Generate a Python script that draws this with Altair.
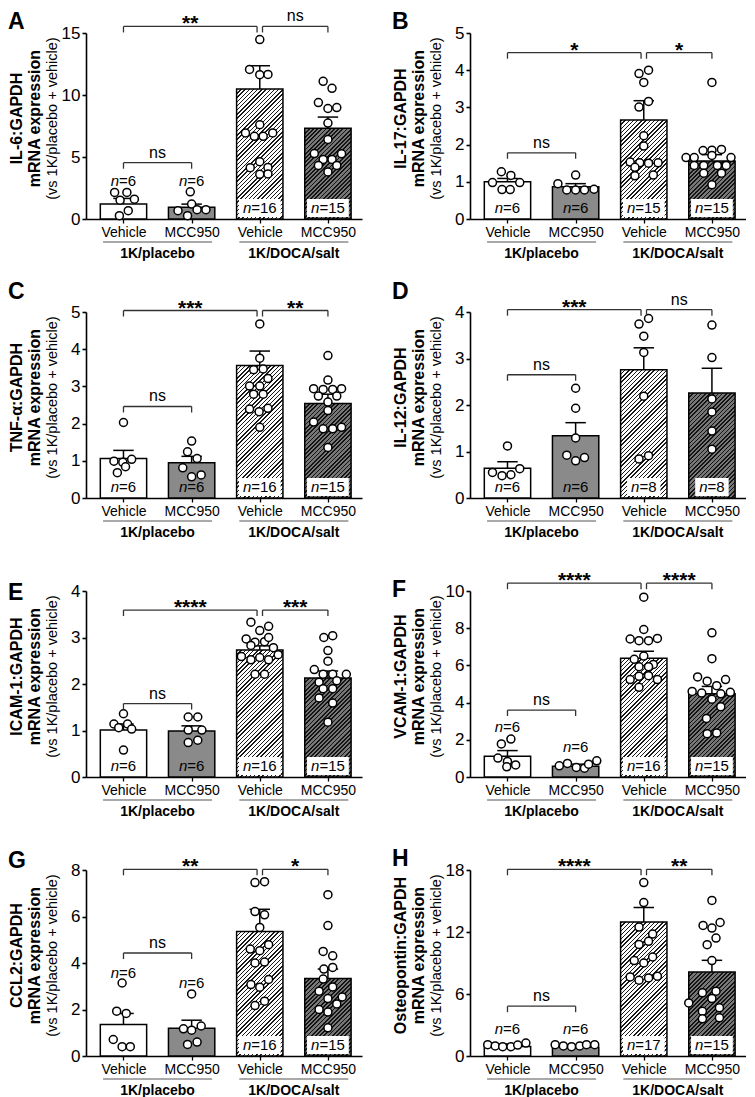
import json
import altair as alt
import pandas as pd

FONT = "Liberation Sans"

# ---------------- text / categories ----------------
CATS = ["Vehicle", "MCC950", "Vehicle", "MCC950"]
GROUPS = ["1K/placebo", "1K/DOCA/salt"]
LETTERS = ["A", "B", "C", "D", "E", "F", "G", "H"]
TITLES = ["IL-6:GAPDH", "IL-17:GAPDH", "TNF-\u03b1:GAPDH", "IL-12:GAPDH",
          "ICAM-1:GAPDH", "VCAM-1:GAPDH", "CCL2:GAPDH", "Osteopontin:GAPDH"]
TITLE_2 = "mRNA expression"
TITLE_3 = "(vs 1K/placebo + vehicle)"
Y_MAX = [15, 5, 5, 4, 4, 10, 8, 18]
Y_TICKS = [[0, 5, 10, 15], [0, 1, 2, 3, 4, 5], [0, 1, 2, 3, 4, 5], [0, 1, 2, 3, 4],
           [0, 1, 2, 3, 4], [0, 2, 4, 6, 8, 10], [0, 2, 4, 6, 8], [0, 6, 12, 18]]

# ---------------- panel A : IL-6 ----------------
A_MEAN = [1.2, 0.94, 10.49, 7.31]
A_ERR = [1.66, 1.2, 12.36, 8.22]
A_N = [6, 6, 16, 15]
A_NY = [3.1, 3.1, None, None]
A_SIG = ["**", "ns", "ns"]
A_BRACKET = [15.53, 4.54]
A_VALS = [[2.14, 2.14, 1.52, 1.6, 0.67, 0.27],
          [2.19, 1.2, 0.67, 0.75, 0.75, 0.27],
          [14.47, 12.06, 11.64, 11.66, 7.6, 6.94, 6.67, 6.67, 6.94, 4.62, 4.14, 4.16, 3.6, 3.63],
          [11.1, 10.54, 9.39, 8.91, 8.99, 7.74, 6.41, 5.28, 5.26, 4.8, 4.8, 4.32, 4.32, 3.79]]
A_DX = [[-0.13, 0.05, -0.05, 0.16, 0.07, -0.06],
        [-0.02, 0.0, -0.2, 0.08, 0.21, -0.06],
        [0, -0.15, 0, 0.12, 0, -0.21, -0.08, 0.05, 0.19, 0, -0.14, 0.12, 0, 0.12],
        [-0.07, 0.06, -0.14, 0, 0.13, 0, 0, -0.2, 0.2, -0.07, 0.06, -0.14, 0.13, 0]]

# ---------------- panel B : IL-17 ----------------
B_MEAN = [1.0, 0.87, 2.66, 1.56]
B_ERR = [1.09, 0.95, 3.18, 1.73]
B_N = [6, 6, 15, 15]
B_NY = [None, None, None, None]
B_SIG = ["*", "*", "ns"]
B_BRACKET = [4.47, 1.78]
B_VALS = [[1.27, 1.17, 0.98, 0.98, 0.79, 0.79],
          [1.18, 0.95, 0.78, 0.78, 0.78, 0.8],
          [3.91, 4.0, 3.67, 3.16, 3.01, 2.24, 1.96, 1.53, 1.51, 1.5, 1.51, 1.39, 1.16, 1.18],
          [3.67, 1.84, 1.85, 1.87, 1.65, 1.65, 1.65, 1.71, 1.44, 1.44, 1.44, 1.44, 1.23, 1.23, 0.92]]
B_DX = [[-0.09, 0.05, -0.22, 0.18, -0.08, 0.04],
        [0, -0.26, -0.13, 0, 0.13, 0.27],
        [-0.07, 0.07, 0, 0.07, -0.07, 0, 0, -0.2, -0.06, 0.07, 0.21, -0.13, -0.13, 0.14],
        [0, -0.13, 0, 0.14, -0.38, -0.26, 0.28, 0, -0.26, -0.12, 0.08, 0.21, -0.12, 0.14, 0]]

# ---------------- panel C : TNF-alpha ----------------
C_MEAN = [1.06, 0.95, 3.56, 2.54]
C_ERR = [1.28, 1.12, 3.95, 2.79]
C_N = [6, 6, 16, 15]
C_NY = [None, None, None, None]
C_SIG = ["***", "**", "ns"]
C_BRACKET = [5.04, 2.46]
C_VALS = [[2.03, 0.99, 0.96, 1.04, 0.84, 0.68],
          [1.53, 1.24, 1.06, 0.81, 0.62, 0.57],
          [4.68, 3.76, 3.45, 3.47, 3.21, 3.01, 3.01, 2.79, 2.79, 2.39, 2.32, 2.41, 1.9],
          [3.83, 3.17, 2.94, 2.92, 2.92, 2.94, 2.74, 2.74, 2.58, 2.35, 2.04, 1.86, 1.86, 1.9, 1.36]]
C_DX = [[0, -0.14, -0.01, 0.12, 0.03, -0.09],
        [0, -0.06, 0.08, -0.13, 0.14, 0],
        [0, 0, -0.09, 0.05, 0.12, -0.15, 0, -0.09, 0.05, -0.15, -0.01, 0.12, 0],
        [0, 0, -0.21, -0.07, 0.07, 0.2, -0.14, 0.13, 0, 0, -0.21, -0.07, 0.07, 0.2, 0]]

# ---------------- panel D : IL-12 ----------------
D_MEAN = [0.64, 1.34, 2.76, 2.26]
D_ERR = [0.78, 1.62, 3.23, 2.79]
D_N = [6, 6, 8, 8]
D_NY = [None, None, None, None]
D_SIG = ["***", "ns", "ns"]
D_BRACKET = [4.05, 2.65]
D_VALS = [[1.12, 0.55, 0.63, 0.48, 0.5],
          [2.36, 1.93, 1.29, 0.92, 0.87, 0.8],
          [3.74, 3.86, 3.48, 3.13, 2.19, 0.84, 0.91],
          [3.72, 3.02, 2.13, 1.85, 1.44, 1.05]]
D_DX = [[0, -0.22, 0.18, -0.08, 0.05],
        [0, 0, 0, -0.13, 0.13, 0],
        [-0.07, 0.07, 0, 0, 0, -0.07, 0.07],
        [0, 0, 0, 0, 0, 0]]

# ---------------- panel E : ICAM-1 ----------------
E_MEAN = [1.01, 0.99, 2.73, 2.13]
E_ERR = [1.14, 1.1, 2.82, 2.28]
E_N = [6, 6, 16, 15]
E_NY = [None, None, None, None]
E_SIG = ["****", "***", "ns"]
E_BRACKET = [3.59, 1.58]
E_VALS = [[1.36, 1.14, 1.14, 1.06, 1.03, 0.58],
          [1.29, 1.29, 1.01, 1.01, 0.79, 0.74],
          [3.33, 3.15, 3.24, 2.97, 2.9, 2.91, 3.0, 2.83, 2.78, 2.59, 2.52, 2.57, 2.52, 2.63, 2.21, 2.21],
          [3.0, 3.04, 2.72, 2.49, 2.31, 2.21, 2.21, 2.21, 2.04, 2.07, 1.9, 1.9, 1.7, 1.59, 1.18]]
E_DX = [[0, -0.14, 0.06, -0.07, 0.12, 0],
        [-0.05, 0.09, -0.05, 0.15, 0.09, -0.05],
        [-0.13, 0, 0.13, -0.2, -0.07, 0.07, 0.13, -0.13, 0.2, -0.27, -0.13, 0, 0.13, 0.27, -0.07, 0.07],
        [-0.06, 0.07, 0, 0, -0.2, -0.07, 0.07, 0.27, -0.13, 0.13, -0.07, 0.07, -0.13, 0.07, 0]]

# ---------------- panel F : VCAM-1 ----------------
F_MEAN = [1.11, 0.58, 6.38, 4.47]
F_ERR = [1.42, 0.69, 6.76, 4.87]
F_N = [6, 6, 16, 15]
F_NY = [2.69, 1.6, None, None]
F_SIG = ["****", "****", "ns"]
F_BRACKET = [10.42, 3.6]
F_VALS = [[2.04, 1.78, 1.02, 0.84, 0.55, 0.65],
          [0.73, 0.51, 0.47, 0.69, 0.87, 0.6],
          [9.67, 7.93, 7.42, 7.33, 7.33, 7.45, 6.5, 6.33, 6.05, 5.93, 5.93, 5.42, 5.45, 5.24, 5.24, 4.82],
          [7.75, 6.36, 5.38, 5.15, 5.24, 4.91, 4.6, 4.51, 4.47, 4.55, 4.18, 3.78, 3.15, 2.33, 2.36]]
F_DX = [[0.05, -0.09, -0.14, 0, -0.01, 0.12],
        [-0.12, 0.01, 0.13, 0.19, 0.31, -0.24],
        [0, 0, -0.2, -0.07, 0.07, 0.2, 0, -0.14, 0.14, -0.07, 0.07, -0.07, 0.07, -0.2, 0.2, -0.07],
        [0, 0, -0.21, -0.07, 0.2, 0.07, -0.29, -0.15, 0.13, 0.27, 0, 0.13, -0.08, -0.07, 0.07]]

# ---------------- panel G : CCL2 ----------------
G_MEAN = [1.36, 1.19, 5.36, 3.33]
G_ERR = [1.83, 1.54, 6.31, 3.74]
G_N = [6, 6, 16, 15]
G_NY = [3.57, 3.14, None, None]
G_SIG = ["**", "*", "ns"]
G_BRACKET = [8.03, 4.43]
G_VALS = [[3.14, 1.93, 1.83, 0.71, 0.4, 0.4],
          [2.67, 1.17, 1.29, 1.11, 0.5, 0.6],
          [7.46, 7.5, 6.21, 6.07, 5.53, 4.6, 4.53, 4.79, 4.0, 4.04, 3.07, 2.96, 3.29, 2.17, 2.36],
          [6.94, 5.61, 4.5, 4.31, 3.74, 3.81, 3.31, 2.79, 2.97, 2.47, 2.54, 2.0, 2.24, 1.89, 1.21]]
G_DX = [[-0.02, -0.1, 0.04, -0.15, -0.02, 0.1],
        [0, -0.12, 0.14, 0, -0.06, 0.08],
        [-0.07, 0.07, -0.07, 0.07, 0, -0.14, 0, 0.13, -0.07, 0.07, -0.13, 0, 0.13, -0.07, 0.07],
        [0, 0, -0.07, 0.07, -0.06, 0.07, -0.07, -0.13, 0.07, 0, 0.21, -0.13, 0.13, 0, 0]]

# ---------------- panel H : Osteopontin ----------------
H_MEAN = [0.93, 0.84, 12.96, 8.13]
H_ERR = [1.16, 1.03, 14.37, 9.26]
H_N = [6, 6, 17, 15]
H_NY = [2.57, 2.57, None, None]
H_SIG = ["****", "**", "ns"]
H_BRACKET = [18.07, 4.82]
H_VALS = [[1.1, 0.97, 0.9, 0.9, 1.06, 1.25],
          [1.1, 0.97, 0.9, 0.97, 1.1, 1.1],
          [16.78, 14.85, 12.48, 11.8, 11.1, 10.8, 9.58, 9.23, 9.0, 7.65, 7.33, 7.56, 7.72],
          [15.05, 12.64, 12.38, 12.92, 11.41, 10.77, 9.23, 6.11, 6.27, 5.14, 5.56, 4.34, 4.66, 3.6, 3.7]]
H_DX = [[-0.29, -0.18, -0.07, 0.05, 0.15, 0.27],
        [-0.3, -0.18, -0.06, 0.06, 0.16, 0.28],
        [0, 0, -0.07, 0.13, 0.07, -0.07, 0.13, -0.14, 0, -0.2, -0.07, 0.07, 0.2],
        [0, -0.13, 0, 0.12, 0.06, -0.07, 0, -0.14, 0.06, -0.34, 0, -0.14, 0.11, -0.14, 0.11]]

PANELS = [
    (A_MEAN, A_ERR, A_VALS, A_DX, A_N, A_NY, A_SIG, A_BRACKET),
    (B_MEAN, B_ERR, B_VALS, B_DX, B_N, B_NY, B_SIG, B_BRACKET),
    (C_MEAN, C_ERR, C_VALS, C_DX, C_N, C_NY, C_SIG, C_BRACKET),
    (D_MEAN, D_ERR, D_VALS, D_DX, D_N, D_NY, D_SIG, D_BRACKET),
    (E_MEAN, E_ERR, E_VALS, E_DX, E_N, E_NY, E_SIG, E_BRACKET),
    (F_MEAN, F_ERR, F_VALS, F_DX, F_N, F_NY, F_SIG, F_BRACKET),
    (G_MEAN, G_ERR, G_VALS, G_DX, G_N, G_NY, G_SIG, G_BRACKET),
    (H_MEAN, H_ERR, H_VALS, H_DX, H_N, H_NY, H_SIG, H_BRACKET),
]

# ---------------- layout / style ----------------
W, H = 276, 186
X_MAX = 4.05
C0 = 0.55
HALF_BAR = 0.34
CAP = 0.15
GAP = 0.04
ROW_PITCH = 279
COL_GAP = 108
PPX = W / X_MAX
LETTER_Y = [-22, -22, -31, -31, -9, -12, -20, -22]
TICK_PX = 6
BRACKET_COLOR = "#333333"


def hatch_fill(w, h, bg, fg, period=4.3, lw=1.5):
    """Diagonal '////' hatching as a hard-stop linear gradient in bbox units."""
    L = w + h
    lam = L / (w * w + h * h)
    stops = []
    t = 0.0
    while t < L:
        a = t / L
        b = min((t + lw) / L, 1.0)
        c = min((t + period) / L, 1.0)
        stops += [{"offset": round(a, 5), "color": fg},
                  {"offset": round(b, 5), "color": fg},
                  {"offset": round(b, 5), "color": bg},
                  {"offset": round(c, 5), "color": bg}]
        t += period
    return {"gradient": "linear", "x1": 0, "y1": 0,
            "x2": round(lam * w, 5), "y2": round(lam * h, 5), "stops": stops}


def panel(i):
    mean, err, vals, dxs, ns, nys, sig, brk = PANELS[i]
    ymax = Y_MAX[i]
    ppy = H / ymax
    c = [C0 + k for k in range(4)]
    sx = alt.Scale(domain=[0, X_MAX], nice=False, zero=False)
    sy = alt.Scale(domain=[0, ymax], nice=False, zero=True)
    xaxis = alt.Axis(values=c, labelExpr=f"{json.dumps(CATS)}[floor(datum.value)]",
                     title=None, grid=False, domainColor="black", domainWidth=1.6,
                     tickColor="black", tickWidth=1.3, tickSize=4, labelFontSize=14,
                     labelColor="black", labelPadding=2, labelAngle=0,
                     labelFlush=False, labelOverlap=False)
    yaxis = alt.Axis(values=Y_TICKS[i], title=None, grid=False, domainColor="black",
                     domainWidth=1.6, tickColor="black", tickWidth=1.6, tickSize=4,
                     labelFontSize=17, labelColor="black", labelPadding=2,
                     labelFlush=False, labelOverlap=False, format="d")

    def X(f):
        return alt.X(f, type="quantitative", scale=sx, axis=xaxis)

    def Y(f):
        return alt.Y(f, type="quantitative", scale=sy, axis=yaxis)

    layers = []
    # bars
    for k in range(4):
        d = pd.DataFrame({"x": [c[k] - HALF_BAR], "x2": [c[k] + HALF_BAR],
                          "y": [0.0], "y2": [mean[k]]})
        w_px = 2 * HALF_BAR * PPX
        h_px = max(mean[k] * ppy, 1.0)
        if k == 0:
            fill = "white"
        elif k == 1:
            fill = "#8a8a8a"
        elif k == 2:
            fill = hatch_fill(w_px, h_px, "white", "#1a1a1a", period=4.2, lw=1.4)
        else:
            fill = hatch_fill(w_px, h_px, "#777777", "#141414", period=4.2, lw=1.7)
        layers.append(alt.Chart(d).mark_rect(fill=fill, stroke="black", strokeWidth=1.5)
                      .encode(x=X("x"), x2="x2", y=Y("y"), y2="y2"))

    # n-label boxes (DOCA bars)
    fs_n = 15
    for k in range(4):
        if nys[k] is None and k >= 2:
            tw = (0.556 + 0.584 + 0.556 * len(str(ns[k]))) * fs_n + 8
            d = pd.DataFrame({"x": [c[k] - tw / 2 / PPX], "x2": [c[k] + tw / 2 / PPX]})
            layers.append(alt.Chart(d).mark_rect(fill="white")
                          .encode(x=X("x"), x2="x2", y=alt.value(H - 2), y2=alt.value(H - 20)))
    # n-label text: italic "n" + "=NN"
    for k in range(4):
        wn = 0.556 * fs_n
        wr = (0.584 + 0.556 * len(str(ns[k]))) * fs_n
        split = c[k] + (wn - (wn + wr) / 2) / PPX
        d = pd.DataFrame({"x": [split], "y": [nys[k] if nys[k] is not None else 0.0],
                          "n": ["n"], "r": ["=" + str(ns[k])]})
        if nys[k] is None:
            ypos = alt.value(H - 6)
            base = "alphabetic"
        else:
            ypos = Y("y")
            base = "middle"
        layers.append(alt.Chart(d).mark_text(fontSize=fs_n, fontStyle="italic", align="right",
                                             baseline=base, color="black")
                      .encode(x=X("x"), y=ypos, text="n:N"))
        layers.append(alt.Chart(d).mark_text(fontSize=fs_n, align="left", baseline=base,
                                             color="black")
                      .encode(x=X("x"), y=ypos, text="r:N"))

    # error bars (upper SEM only)
    eb = pd.DataFrame({"c": c, "m": mean, "e": err,
                       "l": [v - CAP for v in c], "r": [v + CAP for v in c]})
    layers.append(alt.Chart(eb).mark_rule(color="black", strokeWidth=1.5)
                  .encode(x=X("c"), y=Y("m"), y2="e"))
    layers.append(alt.Chart(eb).mark_rule(color="black", strokeWidth=1.5)
                  .encode(x=X("l"), x2="r", y=Y("e")))

    # individual points
    rows = []
    for k in range(4):
        for v, dx in zip(vals[k], dxs[k]):
            rows.append({"x": c[k] + dx, "y": v})
    layers.append(alt.Chart(pd.DataFrame(rows))
                  .mark_point(shape="circle", filled=True, fill="white", stroke="black",
                              strokeWidth=1.5, size=64, opacity=1)
                  .encode(x=X("x"), y=Y("y")))

    # significance brackets
    tk = TICK_PX / ppy
    hseg = pd.DataFrame({"x": [c[0], c[2] + GAP, c[0]],
                         "x2": [c[2] - GAP, c[3], c[1]],
                         "y": [brk[0], brk[0], brk[1]]})
    layers.append(alt.Chart(hseg).mark_rule(color=BRACKET_COLOR, strokeWidth=1.3)
                  .encode(x=X("x"), x2="x2", y=Y("y")))
    vx = [c[0], c[2] - GAP, c[2] + GAP, c[3], c[0], c[1]]
    vy = [brk[0]] * 4 + [brk[1]] * 2
    vseg = pd.DataFrame({"x": vx, "y": vy, "y2": [v - tk for v in vy]})
    layers.append(alt.Chart(vseg).mark_rule(color=BRACKET_COLOR, strokeWidth=1.3)
                  .encode(x=X("x"), y=Y("y"), y2="y2"))
    lab_x = [(c[0] + c[2] - GAP) / 2, (c[2] + GAP + c[3]) / 2, (c[0] + c[1]) / 2]
    lab_y = [brk[0], brk[0], brk[1]]
    for s, lx, ly in zip(sig, lab_x, lab_y):
        d = pd.DataFrame({"x": [lx], "y": [ly], "t": [s]})
        if s == "ns":
            mk = alt.Chart(d).mark_text(fontSize=16, baseline="alphabetic", dy=-5, color="black")
        else:
            mk = alt.Chart(d).mark_text(fontSize=21, fontWeight="bold", baseline="alphabetic",
                                        dy=4, color="black")
        layers.append(mk.encode(x=X("x"), y=Y("y"), text="t:N"))

    # group labels with underline
    ul = pd.DataFrame({"x": [c[0] - 0.3, c[2] - 0.3], "x2": [c[1] + 0.3, c[3] + 0.3]})
    layers.append(alt.Chart(ul).mark_rule(color="#555555", strokeWidth=1.2)
                  .encode(x=X("x"), x2="x2", y=alt.value(H + 23)))
    gl = pd.DataFrame({"x": [(c[0] + c[1]) / 2, (c[2] + c[3]) / 2], "t": GROUPS})
    layers.append(alt.Chart(gl).mark_text(fontSize=14, fontWeight="bold",
                                          baseline="alphabetic", color="black")
                  .encode(x=X("x"), y=alt.value(H + 39), text="t:N"))

    # y-axis title (three rotated lines)
    for txt, xo, wt, fs in [(TITLES[i], -69, "bold", 16), (TITLE_2, -51, "bold", 16),
                            (TITLE_3, -33, "normal", 14.5)]:
        d = pd.DataFrame({"t": [txt]})
        layers.append(alt.Chart(d).mark_text(angle=270, fontSize=fs, fontWeight=wt,
                                             align="center", baseline="middle", color="black")
                      .encode(x=alt.value(xo), y=alt.value(H * 0.46), text="t:N"))

    # panel letter
    d = pd.DataFrame({"t": [LETTERS[i]]})
    layers.append(alt.Chart(d).mark_text(fontSize=23, fontWeight="bold", align="left",
                                         baseline="top", color="black")
                  .encode(x=alt.value(-78), y=alt.value(LETTER_Y[i]), text="t:N"))

    return alt.layer(*layers).properties(width=W, height=H)


chart = alt.concat(*[panel(i) for i in range(8)], columns=2,
                   spacing={"row": ROW_PITCH - H, "column": COL_GAP},
                   bounds="flush").properties(padding=0)
chart = chart.configure(font=FONT).configure_view(stroke=None)

chart.save("out.html", embed_options={"renderer": "svg", "actions": False})
